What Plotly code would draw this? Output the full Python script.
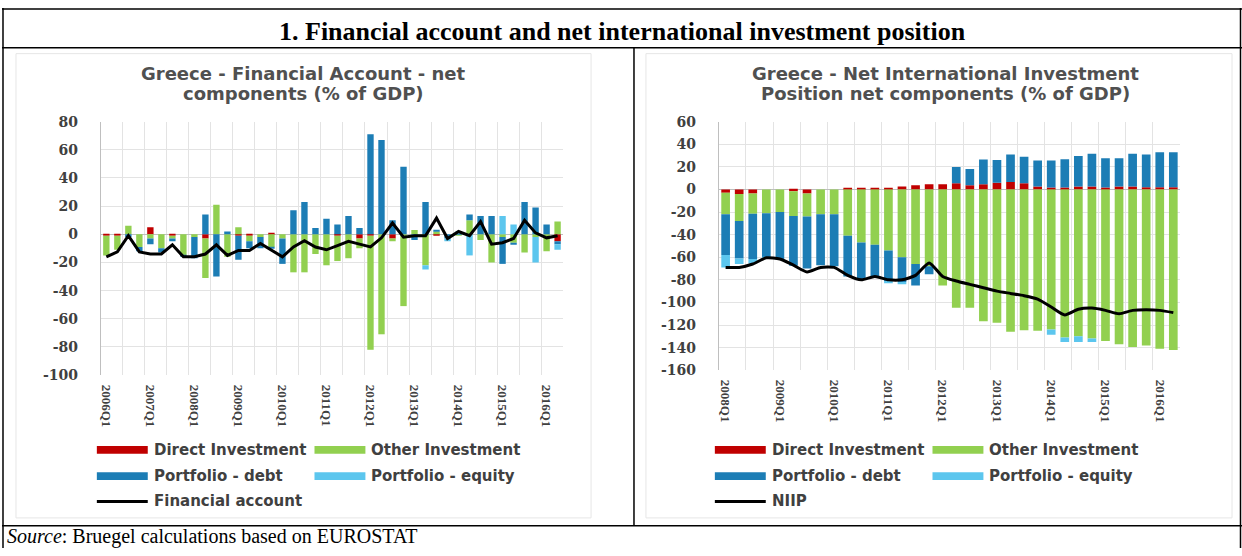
import plotly.graph_objects as go

W, H = 1242, 556

# ---------------- data: left chart (Financial account, % of GDP) ----------------
fa_quarters = [f"{y}Q{q}" for y in range(2006, 2017) for q in range(1, 5)][:42]
fa_ticks = ["2006Q1", "2007Q1", "2008Q1", "2009Q1", "2010Q1", "2011Q1",
            "2012Q1", "2013Q1", "2014Q1", "2015Q1", "2016Q1"]
fa_yvals = [80, 60, 40, 20, 0, -20, -40, -60, -80, -100]
fa_ylabels = ["80", "60", "40", "20", "0", "-20", "-40", "-60", "-80", "-100"]
fa_direct = [-1, -1, 0, 0, 5, 0, -1, 0, 0, -3,
             0, 0, -1, -1, 0, 1, 0, 0, 0, 0,
             0, -1, 0, -3, -1, 0, -3, 0, 0, 0,
             -1, 0, 0, 0, 0, 0, 0, 0, 0, 0,
             0, -5]
fa_other = [-14, -10, 6, -9, -3, -10, -2, -15, -2, -28,
            21, -16, 5, -4, -2, -9, -3, -27, -27, -14,
            -22, -18, -17, -7, -81, -71, -2, -51, 3, -22,
            2, 0, -1, 10, -4, -20, -2, -6, -13, -2,
            -12, 9]
fa_pdebt = [0, 0, -2, -3, -4, -3, -2, -1, -15, 14,
            -30, 2, -17, -5, -8, -1, -18, 17, 23, 4.5,
            11, 7, 13, 4.5, 71, 67, 10, 48, -4, 23,
            1, -3, 1, 4, 13, 13, -19, -1, 23, 19,
            7, -2]
fa_pequity = [0, 0, 0, 0, 0, 0, 0, 0, 0, 0,
              0, 0, 0, 0, 0, 0, 0, 0, 0, 0,
              0, 0, 0, 0, 0, 0, 0, 0, 0, -3,
              0, -2, 1, -15, 0, 0, 13, 7, 0, -18,
              0, -4]
fa_total = [-16, -12.5, -1, -12.5, -14, -14, -7.5, -16, -16, -14,
            -7.5, -15, -11.5, -11.5, -6.5, -11.5, -16, -9, -4.5, -9,
            -11, -8, -5, -7, -9, -2.5, 8, -2, -1, -1,
            11.5, -3, 2, -1, 9, -7, -6, -3, 10, 1,
            -2.5, -1]

# ---------------- data: right chart (NIIP, % of GDP) ----------------
niip_quarters = [f"{y}Q{q}" for y in range(2008, 2017) for q in range(1, 5)][:34]
niip_ticks = ["2008Q1", "2009Q1", "2010Q1", "2011Q1", "2012Q1",
              "2013Q1", "2014Q1", "2015Q1", "2016Q1"]
niip_yvals = [60, 40, 20, 0, -20, -40, -60, -80, -100, -120, -140, -160]
niip_ylabels = ["60", "40", "20", "0", "-20", "-40", "-60", "-80", "-100", "-120", "-140", "-160"]
niip_direct = [-3, -4, -3.5, 0, 0, -1.5, -3.5, 0, 0, 1,
               1, 1, 1.5, 2.5, 3.7, 4.6, 4.6, 5.4, 3.7, 4.6,
               6, 6.6, 5.4, 2.6, 1.7, 1.7, 2.6, 2.6, 1.7, 2.6,
               2.6, 2, 2, 2]
niip_other = [-19, -24, -18, -21, -20, -22, -20.5, -22, -22, -41,
              -47, -49, -54, -60, -66, -68, -85, -104.6, -104.6, -116.6,
              -118, -126, -124.6, -125, -124, -131, -130, -132, -134, -137,
              -139.5, -138, -141, -142]
niip_pdebt = [-36, -33, -40, -39, -42, -44, -46, -45, -46, -36,
              -33, -29, -27, -22, -19, -7, 0, 14.4, 14.3, 22,
              20, 24.4, 23.6, 23, 23.8, 25, 27, 29, 25.8, 25,
              29, 29, 31, 31]
niip_pequity = [-11, -5, -4, -1, 0, 0, 0, 0, 0, 0,
                0, 0, -2, -2, 0, 0, 0, 0, 0, 0,
                0, 0, 0, 0, -4.6, -4, -5, -3, 0, 0,
                0, 0, 0, 0]
niip_total = [-69, -69, -66, -60.5, -61.5, -67, -73, -69, -69, -76,
              -80, -77, -80, -80, -76, -65, -77, -81, -84, -87,
              -90, -92, -94, -97, -104, -111, -106, -105, -107, -110,
              -107, -106.5, -107, -109]

# ---------------- styling ----------------
C_DI = "#C00000"
C_OI = "#92D050"
C_PD = "#1C7DB5"
C_PE = "#5CC6EE"
TXT = "#404040"
GRID = "#e3e3e3"
AXL = "#bfbfbf"


def X(p):
    return p / W


def Y(p):
    return 1 - p / H


fig = go.Figure()

fa_pos = [fa_quarters.index(q) for q in fa_quarters]
niip_pos = [niip_quarters.index(q) for q in niip_quarters]

series_fa = [("Direct Investment", fa_direct, C_DI),
             ("Other Investment", fa_other, C_OI),
             ("Portfolio - debt", fa_pdebt, C_PD),
             ("Portfolio - equity", fa_pequity, C_PE)]
for name, vals, col in series_fa:
    fig.add_trace(go.Bar(x=fa_pos, y=vals, name=name, marker_color=col,
                         marker_line_width=0, width=0.58, xaxis="x", yaxis="y",
                         showlegend=False))
fig.add_trace(go.Scatter(x=fa_pos, y=fa_total, mode="lines", name="Financial account",
                         line=dict(color="black", width=3), xaxis="x", yaxis="y",
                         showlegend=False))

series_niip = [("Direct Investment", niip_direct, C_DI),
               ("Other Investment", niip_other, C_OI),
               ("Portfolio - debt", niip_pdebt, C_PD),
               ("Portfolio - equity", niip_pequity, C_PE)]
for name, vals, col in series_niip:
    fig.add_trace(go.Bar(x=niip_pos, y=vals, name=name, marker_color=col,
                         marker_line_width=0, width=0.64, xaxis="x2", yaxis="y2",
                         showlegend=False))
fig.add_trace(go.Scatter(x=niip_pos, y=niip_total, mode="lines", name="NIIP",
                         line=dict(color="black", width=3, shape="spline", smoothing=0.6),
                         xaxis="x2", yaxis="y2", showlegend=False))


def xaxis_cfg(domain, n, quarters, ticks, anchor):
    return dict(domain=domain, anchor=anchor, range=[-0.5, n - 0.5],
                tickmode="array", tickvals=[quarters.index(t) for t in ticks], ticktext=ticks,
                tickangle=90, tickfont=dict(family="Liberation Serif", size=13, color=TXT, weight="bold"),
                showgrid=False, zeroline=False, showline=False,
                ticks="outside", ticklen=6, tickcolor="rgba(0,0,0,0)",
                minor=dict(tick0=-0.5, dtick=2, showgrid=True, gridcolor=GRID, gridwidth=1, ticks=""),
                fixedrange=True)


def yaxis_cfg(domain, rng, anchor, vals, labels, gap):
    return dict(domain=domain, anchor=anchor, range=rng,
                tickmode="array", tickvals=vals, ticktext=labels,
                showgrid=True, gridcolor=GRID, gridwidth=1,
                zeroline=True, zerolinecolor=AXL, zerolinewidth=1,
                showline=True, linecolor=AXL, linewidth=1,
                ticks="outside", ticklen=gap, tickcolor="rgba(0,0,0,0)",
                tickfont=dict(family="DejaVu Serif", size=14, color=TXT, weight="bold"),
                fixedrange=True)


fig.update_layout(
    width=W, height=H, autosize=False,
    margin=dict(l=0, r=0, t=0, b=0),
    paper_bgcolor="white", plot_bgcolor="white",
    barmode="relative",
    xaxis=xaxis_cfg([X(99), X(562)], len(fa_quarters), fa_quarters, fa_ticks, "y"),
    yaxis=yaxis_cfg([Y(378), Y(117)], [-100, 80], "x", fa_yvals, fa_ylabels, 19),
    xaxis2=xaxis_cfg([X(718), X(1180)], len(niip_quarters), niip_quarters, niip_ticks, "y2"),
    yaxis2=yaxis_cfg([Y(373), Y(117)], [-160, 60], "x2", niip_yvals, niip_ylabels, 19),
)

shapes = []
ann = []

# table borders
blk = dict(color="black", width=1.5)
shapes.append(dict(type="line", xref="paper", yref="paper", x0=X(0), x1=X(1242), y0=Y(1), y1=Y(1), line=blk))
shapes.append(dict(type="line", xref="paper", yref="paper", x0=X(0), x1=X(1242), y0=Y(41), y1=Y(41), line=blk))
shapes.append(dict(type="line", xref="paper", yref="paper", x0=X(0), x1=X(1242), y0=Y(533), y1=Y(533), line=blk))
shapes.append(dict(type="line", xref="paper", yref="paper", x0=X(1), x1=X(1), y0=Y(0), y1=Y(556), line=blk))
shapes.append(dict(type="line", xref="paper", yref="paper", x0=X(1240.5), x1=X(1240.5), y0=Y(0), y1=Y(556), line=blk))
shapes.append(dict(type="line", xref="paper", yref="paper", x0=X(633), x1=X(633), y0=Y(41), y1=Y(533), line=blk))

# chart-area frames
for x0, x1 in [(14, 590), (645, 1232)]:
    shapes.append(dict(type="rect", xref="paper", yref="paper", x0=X(x0), x1=X(x1), y0=Y(47), y1=Y(525),
                       line=dict(color="#e6e6e6", width=1), layer="below"))

ann.append(dict(text="<b>1. Financial account and net international investment position</b>",
                x=X(621), y=Y(24), xref="paper", yref="paper", showarrow=False,
                xanchor="center", yanchor="middle",
                font=dict(family="Liberation Serif", size=26, color="black")))
ann.append(dict(text="<i>Source</i>: Bruegel calculations based on EUROSTAT",
                x=X(3), y=Y(544.5), xref="paper", yref="paper", showarrow=False,
                xanchor="left", yanchor="middle",
                font=dict(family="Liberation Serif", size=20, color="black")))

titles = [("Greece - Financial Account - net", "components (% of GDP)", 302),
          ("Greece - Net International Investment", "Position net components (% of GDP)", 945)]
for l1, l2, cx in titles:
    for txt, yy in [(l1, 67), (l2, 88)]:
        ann.append(dict(text=txt, x=X(cx), y=Y(yy), xref="paper", yref="paper", showarrow=False,
                        xanchor="center", yanchor="middle", align="center",
                        font=dict(family="DejaVu Sans", size=18, color="#505050", weight="bold")))

# legends (swatches + text)
rows = [455, 482, 508]
legend_left = [("Direct Investment", C_DI, "bar", 95, rows[0]),
               ("Other Investment", C_OI, "bar", 313, rows[0]),
               ("Portfolio - debt", C_PD, "bar", 95, rows[1]),
               ("Portfolio - equity", C_PE, "bar", 313, rows[1]),
               ("Financial account", "black", "line", 95, rows[2])]
legend_right = [("Direct Investment", C_DI, "bar", 714, rows[0]),
                ("Other Investment", C_OI, "bar", 932, rows[0]),
                ("Portfolio - debt", C_PD, "bar", 714, rows[1]),
                ("Portfolio - equity", C_PE, "bar", 932, rows[1]),
                ("NIIP", "black", "line", 714, rows[2])]
for name, col, kind, x0, yc in legend_left + legend_right:
    if kind == "bar":
        shapes.append(dict(type="rect", xref="paper", yref="paper", x0=X(x0), x1=X(x0 + 51),
                           y0=Y(yc + 4), y1=Y(yc - 4), line=dict(width=0), fillcolor=col))
    else:
        shapes.append(dict(type="line", xref="paper", yref="paper", x0=X(x0), x1=X(x0 + 51),
                           y0=Y(yc), y1=Y(yc), line=dict(color=col, width=3)))
    ann.append(dict(text=name, x=X(x0 + 55), y=Y(yc), xref="paper", yref="paper", showarrow=False,
                    xanchor="left", yanchor="middle",
                    font=dict(family="DejaVu Sans", size=15, color=TXT, weight="bold")))

fig.update_layout(shapes=shapes, annotations=ann)
fig.write_html("out.html", config={"displayModeBar": False},
               post_script="document.body.style.margin='0';document.body.style.overflow='hidden';")
